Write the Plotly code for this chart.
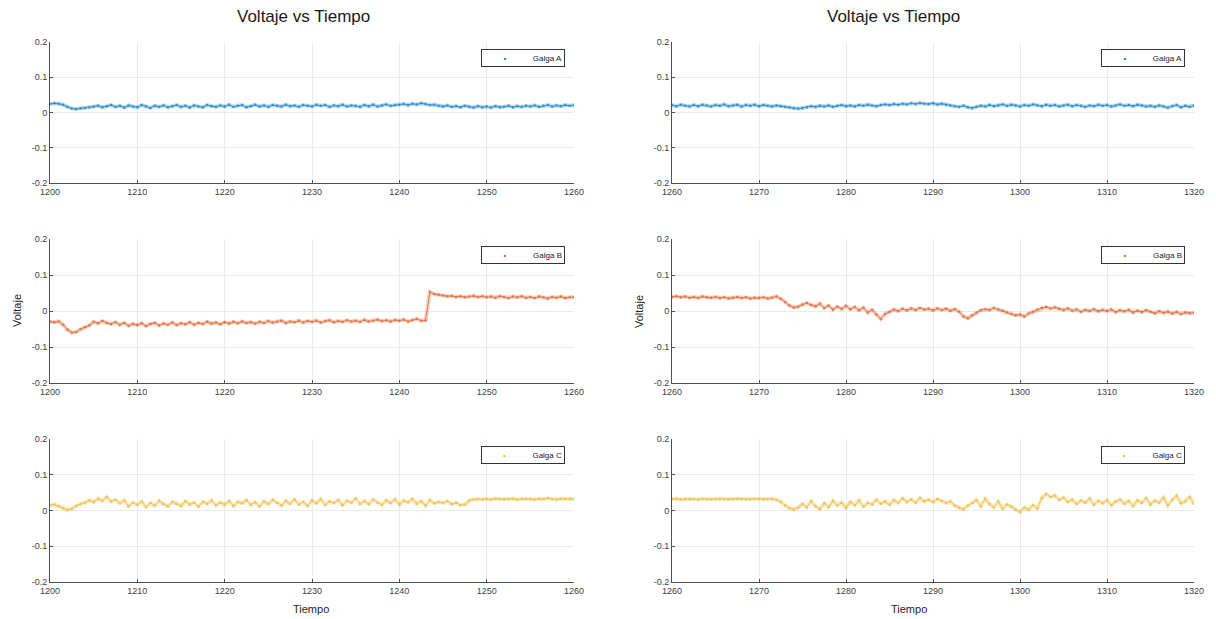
import numpy as np
import plotly.graph_objects as go

# Strain-gauge voltages sampled every 0.5 s from t = 1200 s to t = 1320 s
T_START, T_END, T_STEP = 1200.0, 1320.0, 0.5

galga_a = [
    0.024, 0.026, 0.025, 0.022, 0.016, 0.011, 0.010, 0.012, 0.013, 0.014,
    0.016, 0.019, 0.015, 0.018, 0.021, 0.016, 0.019, 0.014, 0.020, 0.017,
    0.015, 0.021, 0.018, 0.013, 0.019, 0.016, 0.020, 0.015, 0.018, 0.021,
    0.016, 0.019, 0.014, 0.020, 0.017, 0.015, 0.021, 0.018, 0.016, 0.020,
    0.017, 0.022, 0.016, 0.019, 0.021, 0.015, 0.018, 0.022, 0.017, 0.020,
    0.016, 0.021, 0.019, 0.017, 0.022, 0.018, 0.020, 0.016, 0.021, 0.019,
    0.017, 0.022, 0.019, 0.021, 0.016, 0.020, 0.018, 0.022, 0.017, 0.020,
    0.019, 0.016, 0.021, 0.018, 0.022, 0.017, 0.020, 0.023, 0.019, 0.021,
    0.022, 0.024, 0.021, 0.025, 0.023, 0.026, 0.024, 0.021, 0.022, 0.019,
    0.017, 0.020, 0.016, 0.018, 0.015, 0.019, 0.016, 0.014, 0.018, 0.015,
    0.017, 0.014, 0.018, 0.015, 0.016, 0.019, 0.015, 0.018, 0.016, 0.019,
    0.017, 0.020, 0.016, 0.019, 0.021, 0.017, 0.020, 0.018, 0.021, 0.019,
    0.021, 0.018, 0.022, 0.019, 0.017, 0.021, 0.018, 0.022, 0.020, 0.017,
    0.021, 0.019, 0.023, 0.018, 0.020, 0.022, 0.017, 0.021, 0.019, 0.022,
    0.018, 0.021, 0.019, 0.017, 0.020, 0.018, 0.016, 0.014, 0.012, 0.011,
    0.013, 0.015, 0.018, 0.016, 0.019, 0.017, 0.020, 0.016, 0.019, 0.021,
    0.018, 0.020, 0.017, 0.021, 0.019, 0.022, 0.020, 0.018, 0.021, 0.023,
    0.021, 0.024, 0.022, 0.025, 0.023, 0.026, 0.024, 0.027, 0.025, 0.024,
    0.026, 0.023, 0.025, 0.022, 0.020, 0.018, 0.016, 0.019, 0.015, 0.013,
    0.016, 0.019, 0.017, 0.021, 0.018, 0.020, 0.023, 0.019, 0.022, 0.020,
    0.017, 0.021, 0.019, 0.023, 0.020, 0.018, 0.022, 0.019, 0.021, 0.017,
    0.020, 0.022, 0.018, 0.021, 0.019, 0.016, 0.020, 0.018, 0.022, 0.019,
    0.021, 0.017, 0.020, 0.023, 0.019, 0.021, 0.018, 0.022, 0.020, 0.017,
    0.019, 0.016, 0.020, 0.017, 0.014, 0.018, 0.021, 0.015, 0.019, 0.016,
    0.020,
]

galga_b = [
    -0.030, -0.031, -0.029, -0.038, -0.052, -0.060, -0.058, -0.050, -0.045, -0.040,
    -0.030, -0.034, -0.028, -0.033, -0.036, -0.031, -0.038, -0.033, -0.041, -0.036,
    -0.039, -0.034, -0.042, -0.036, -0.033, -0.040, -0.035, -0.038, -0.032, -0.039,
    -0.034, -0.037, -0.031, -0.038, -0.033, -0.036, -0.030, -0.035, -0.032, -0.037,
    -0.031, -0.035, -0.030, -0.034, -0.029, -0.033, -0.031, -0.035, -0.030, -0.033,
    -0.028, -0.032, -0.030, -0.027, -0.033, -0.029, -0.031, -0.027, -0.032, -0.028,
    -0.030, -0.027, -0.032, -0.028, -0.026, -0.031, -0.028, -0.030, -0.026, -0.029,
    -0.027, -0.030, -0.025, -0.029, -0.027, -0.024, -0.028, -0.026, -0.029, -0.025,
    -0.027, -0.024, -0.029, -0.025, -0.022, -0.027, -0.026, 0.053, 0.047, 0.045,
    0.043, 0.041, 0.042, 0.039, 0.041, 0.038, 0.040, 0.042, 0.039, 0.041,
    0.038, 0.040, 0.037, 0.041, 0.039, 0.036, 0.040, 0.038, 0.041, 0.037,
    0.039, 0.036, 0.040, 0.038, 0.035, 0.039, 0.037, 0.040, 0.036, 0.038,
    0.039, 0.041, 0.038, 0.040, 0.037, 0.039, 0.036, 0.040, 0.038, 0.037,
    0.039, 0.036, 0.038, 0.035, 0.037, 0.039, 0.036, 0.038, 0.035, 0.037,
    0.036, 0.038, 0.035, 0.037, 0.040, 0.034, 0.025, 0.015, 0.010, 0.012,
    0.018, 0.022, 0.017, 0.013, 0.020, 0.008, 0.015, 0.004, 0.012, 0.006,
    0.014, 0.005, 0.011, 0.002, 0.009, -0.004, 0.003, -0.010, -0.022, -0.008,
    -0.003, 0.004, 0.000, 0.006, 0.002, 0.007, 0.003, 0.008, 0.004, 0.006,
    0.002, 0.007, 0.003, 0.006, 0.001, 0.005, -0.002, -0.015, -0.020, -0.012,
    -0.004, 0.002, 0.005, 0.003, 0.008, 0.004, 0.001, -0.004, -0.008, -0.012,
    -0.010, -0.015, -0.007, -0.002, 0.004, 0.008, 0.011, 0.007, 0.010, 0.006,
    0.003, 0.007, 0.001, 0.004, -0.002, 0.003, 0.000, 0.005, -0.001, 0.003,
    0.000, 0.004, -0.003, 0.002, -0.001, 0.003, -0.004, 0.001, -0.003, 0.002,
    -0.002, -0.006, -0.001, -0.005, -0.002, -0.007, -0.003, -0.008, -0.004, -0.006,
    -0.005,
]

galga_c = [
    0.015, 0.017, 0.012, 0.006, 0.002, 0.005, 0.013, 0.018, 0.022, 0.028,
    0.024, 0.033, 0.027, 0.038, 0.025, 0.030, 0.020, 0.028, 0.012, 0.022,
    0.016, 0.025, 0.010, 0.021, 0.014, 0.027, 0.018, 0.012, 0.024, 0.019,
    0.013, 0.026, 0.017, 0.022, 0.011, 0.024, 0.019, 0.028, 0.015, 0.022,
    0.017, 0.026, 0.013, 0.024, 0.020, 0.029, 0.016, 0.023, 0.012, 0.025,
    0.018, 0.030, 0.021, 0.014, 0.027, 0.019, 0.031, 0.017, 0.024, 0.013,
    0.028, 0.020, 0.032, 0.016, 0.025, 0.021, 0.029, 0.015, 0.027, 0.022,
    0.033, 0.019, 0.026, 0.018, 0.030, 0.022, 0.016, 0.028, 0.021, 0.031,
    0.017, 0.027, 0.023, 0.032, 0.019, 0.026, 0.014, 0.029, 0.020, 0.024,
    0.021, 0.026, 0.018, 0.022, 0.015, 0.017, 0.028, 0.031, 0.032, 0.031,
    0.032, 0.031, 0.033, 0.032, 0.031, 0.032, 0.033, 0.031, 0.032, 0.033,
    0.032, 0.031, 0.033, 0.032, 0.034, 0.032, 0.031, 0.033, 0.032, 0.033,
    0.032, 0.033, 0.031, 0.032, 0.033, 0.032, 0.031, 0.033, 0.032, 0.031,
    0.032, 0.033, 0.032, 0.031, 0.032, 0.033, 0.032, 0.031, 0.032, 0.033,
    0.032, 0.031, 0.032, 0.033, 0.030, 0.024, 0.014, 0.006, 0.003, 0.008,
    0.018, 0.009, 0.026, 0.012, 0.004, 0.020, 0.010, 0.027, 0.014, 0.022,
    0.008, 0.024, 0.015, 0.028, 0.011, 0.021, 0.017, 0.030, 0.019, 0.025,
    0.016, 0.029, 0.021, 0.034, 0.024, 0.031, 0.022, 0.035, 0.026, 0.030,
    0.024, 0.032, 0.027, 0.021, 0.025, 0.014, 0.008, 0.004, 0.013, 0.020,
    0.029, 0.012, 0.033, 0.018, 0.009, 0.025, 0.005, 0.017, 0.011, 0.002,
    -0.004, 0.008, 0.002, 0.015, 0.006, 0.035, 0.046, 0.038, 0.042, 0.030,
    0.036, 0.024, 0.031, 0.018, 0.028, 0.022, 0.033, 0.016, 0.027, 0.020,
    0.029, 0.015, 0.025, 0.031, 0.019, 0.026, 0.013, 0.028, 0.021, 0.034,
    0.017, 0.027, 0.022, 0.036, 0.014, 0.030, 0.041, 0.020, 0.026, 0.038,
    0.018,
]

series_names = ["Galga A", "Galga B", "Galga C"]
series_colors = ["#0072BD", "#D95319", "#EDB120"]

# Time windows for the two columns of panels
windows = [(1200, 1260), (1260, 1320)]
x_tickvals = [[1200, 1210, 1220, 1230, 1240, 1250, 1260],
              [1260, 1270, 1280, 1290, 1300, 1310, 1320]]
y_tickvals = [-0.2, -0.1, 0, 0.1, 0.2]
y_ticktext = ["-0.2", "-0.1", "0", "0.1", "0.2"]

title_text = "Voltaje vs Tiempo"
xlabel_text = "Tiempo"
ylabel_text = "Voltaje"

W, H = 1216, 619
FONT = "Liberation Sans, Arial, sans-serif"

# Panel placement in pixels: columns (left, right), rows (top, bottom)
col_px = [(50, 574), (672, 1194)]
row_px = [(42, 183), (239, 383), (439, 582)]
# Centres of the column titles and x labels
title_cx = [303, 893]
xlabel_cx = [311, 909]

t = np.arange(T_START, T_END + T_STEP / 2, T_STEP)
data = [np.array(galga_a), np.array(galga_b), np.array(galga_c)]

fig = go.Figure()
layout = dict(
    template="none",
    width=W, height=H,
    margin=dict(l=0, r=0, t=0, b=0, autoexpand=False),
    paper_bgcolor="white", plot_bgcolor="white",
    font=dict(family=FONT, color="#404040"),
    showlegend=False,
)

annotations = []
panel = 0
for r in range(3):
    for c in range(2):
        panel += 1
        suffix = "" if panel == 1 else str(panel)
        xa, ya = "x" + suffix, "y" + suffix
        t0, t1 = windows[c]
        mask = (t >= t0) & (t <= t1)
        color = series_colors[r]

        # soft band under the trace
        fig.add_trace(go.Scatter(
            x=t[mask], y=data[r][mask], xaxis=xa, yaxis=ya, mode="lines",
            line=dict(color=color, width=4), opacity=0.25,
            hoverinfo="skip",
        ))
        fig.add_trace(go.Scatter(
            x=t[mask], y=data[r][mask], xaxis=xa, yaxis=ya,
            mode="lines+markers",
            line=dict(color=color, width=1),
            marker=dict(color=color, size=2.5),
            opacity=0.7, name=series_names[r],
        ))

        x0, x1 = col_px[c]
        y0, y1 = row_px[r]
        axis_common = dict(
            ticks="inside", ticklen=3, tickcolor="#505050",
            showline=True, linecolor="#505050", linewidth=1, mirror=False,
            showgrid=True, gridcolor="#ebebeb", gridwidth=1, zeroline=False,
            automargin=False, tickfont=dict(size=9, color="#404040"),
        )
        layout["xaxis" + suffix] = dict(
            domain=[x0 / W, x1 / W], range=[t0, t1], anchor=ya,
            tickvals=x_tickvals[c], **axis_common,
        )
        layout["yaxis" + suffix] = dict(
            domain=[1 - y1 / H, 1 - y0 / H], range=[-0.2, 0.2], anchor=xa,
            tickvals=y_tickvals, ticktext=y_ticktext, **axis_common,
        )

        # boxed legend in the upper-right corner of each panel
        legend_text = ("<span style='color:%s'>•</span>" % color
                       + "&nbsp;" * 12 + series_names[r])
        annotations.append(dict(
            text=legend_text, x=(x1 - 9) / W, y=1 - (y0 + 7) / H,
            xref="paper", yref="paper", xanchor="right", yanchor="top",
            showarrow=False, align="right", width=78, height=12,
            bgcolor="white", bordercolor="#333333", borderwidth=1,
            borderpad=2, font=dict(size=8, color="#222222", family=FONT),
        ))

# Column titles and axis labels
for c in range(2):
    x0, x1 = col_px[c]
    annotations.append(dict(
        text=title_text, x=title_cx[c] / W, y=1 - 17 / H, xref="paper",
        yref="paper", showarrow=False, xanchor="center", yanchor="middle",
        font=dict(size=17, color="#1a1a1a", family=FONT),
    ))
    annotations.append(dict(
        text=xlabel_text, x=xlabel_cx[c] / W, y=1 - 609 / H, xref="paper",
        yref="paper", showarrow=False, xanchor="center", yanchor="middle",
        font=dict(size=11, color="#262626", family=FONT),
    ))
    annotations.append(dict(
        text=ylabel_text, x=(x0 - 33) / W, y=1 - 311 / H, xref="paper",
        yref="paper", showarrow=False, xanchor="center", yanchor="middle",
        textangle=-90, font=dict(size=11, color="#262626", family=FONT),
    ))

layout["annotations"] = annotations
fig.update_layout(**layout)
fig.write_html("out.html")
